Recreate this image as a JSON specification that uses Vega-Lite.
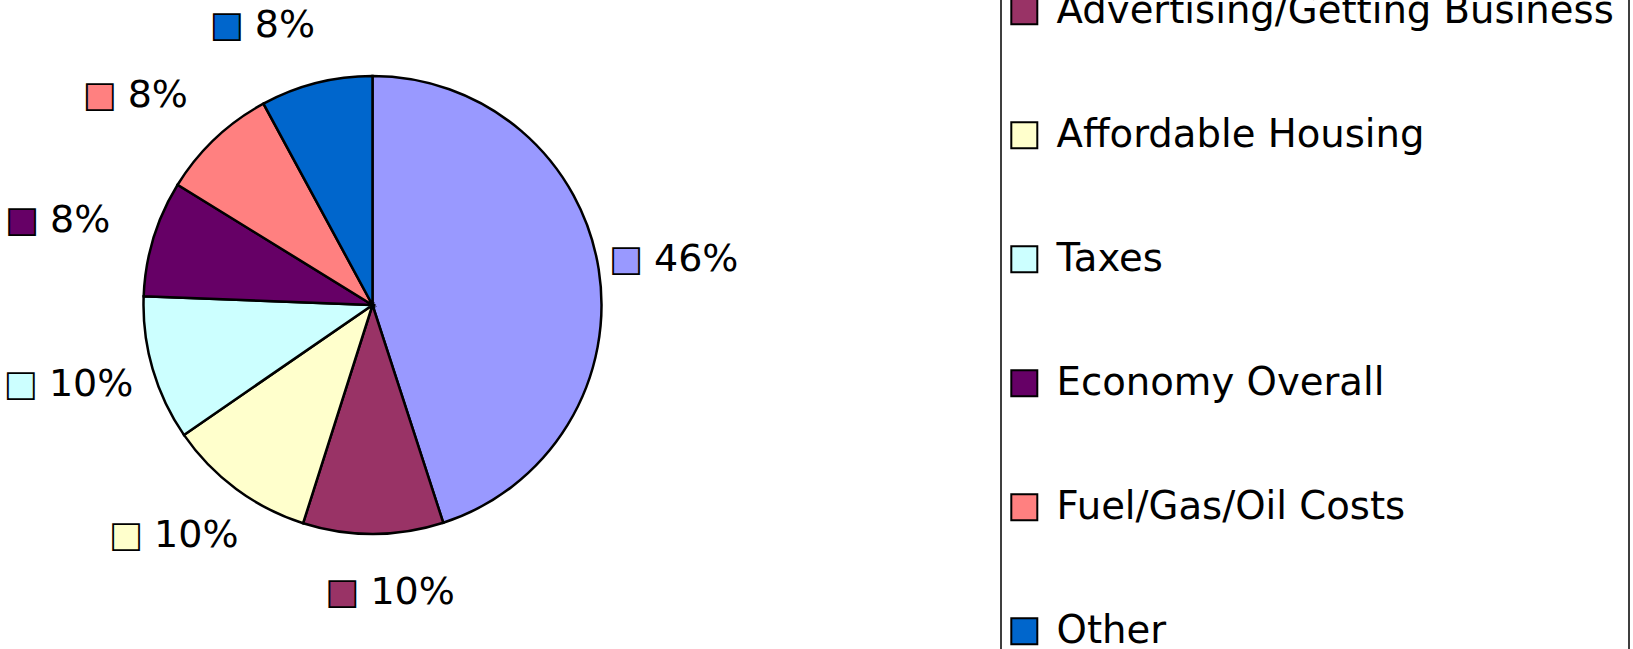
{
  "$schema": "https://vega.github.io/schema/vega-lite/v6.json",
  "width": 745,
  "height": 610,
  "autosize": {"type": "none"},
  "padding": {"left": 0, "top": 0, "right": 888, "bottom": 39},
  "background": "white",
  "data": {"values": [
    {"category": "Health Care Costs", "value": 45.0, "label": "46%", "rank": 0},
    {"category": "Advertising/Getting Business", "value": 9.9, "label": "10%", "rank": 1},
    {"category": "Affordable Housing", "value": 10.5, "label": "10%", "rank": 2},
    {"category": "Taxes", "value": 10.2, "label": "10%", "rank": 3},
    {"category": "Economy Overall", "value": 8.2, "label": "8%", "rank": 4},
    {"category": "Fuel/Gas/Oil Costs", "value": 8.3, "label": "8%", "rank": 5},
    {"category": "Other", "value": 7.9, "label": "8%", "rank": 6}
  ]},
  "encoding": {
    "theta": {"field": "value", "type": "quantitative", "stack": true},
    "order": {"field": "rank", "type": "quantitative"},
    "color": {
      "field": "category",
      "type": "nominal",
      "scale": {
        "domain": ["Health Care Costs", "Advertising/Getting Business", "Affordable Housing", "Taxes", "Economy Overall", "Fuel/Gas/Oil Costs", "Other"],
        "range": ["#9999FF", "#993366", "#FFFFCC", "#CCFFFF", "#660066", "#FF8080", "#0066CC"]
      },
      "legend": {
        "orient": "none",
        "legendX": 1001,
        "legendY": -147,
        "title": null,
        "strokeColor": "black",
        "padding": 15,
        "symbolType": "square",
        "symbolSize": 676,
        "symbolOffset": -11,
        "symbolStrokeColor": "black",
        "symbolStrokeWidth": 2,
        "symbolOpacity": 1,
        "labelFont": "DejaVu Sans",
        "labelFontSize": 38.6,
        "labelColor": "black",
        "labelOffset": 13,
        "rowPadding": 85,
        "labelLimit": 0,
        "encode": {
          "legend": {"update": {"strokeWidth": {"value": 1.5}}},
          "symbols": {"update": {"stroke": {"value": "black"}, "strokeWidth": {"value": 2}}}
        }
      }
    }
  },
  "layer": [
    {"mark": {"type": "arc", "outerRadius": 229, "stroke": "black", "strokeWidth": 2.5}},
    {"mark": {"type": "text", "text": "■", "radius": 288, "dx": {"expr": "(datum.value_start + datum.value_end) / 2 < 50 ? -31 : -75"}, "align": "center", "baseline": "middle", "font": "DejaVu Sans", "fontSize": 34, "stroke": "black", "strokeWidth": 1.8}},
    {"mark": {"type": "text", "radius": 288, "dx": {"expr": "(datum.value_start + datum.value_end) / 2 < 50 ? -3 : -47"}, "align": "left", "baseline": "middle", "font": "DejaVu Sans", "fontSize": 38},
     "encoding": {"text": {"field": "label"}, "color": {"value": "black"}}}
  ],
  "config": {"view": {"stroke": null}}
}
